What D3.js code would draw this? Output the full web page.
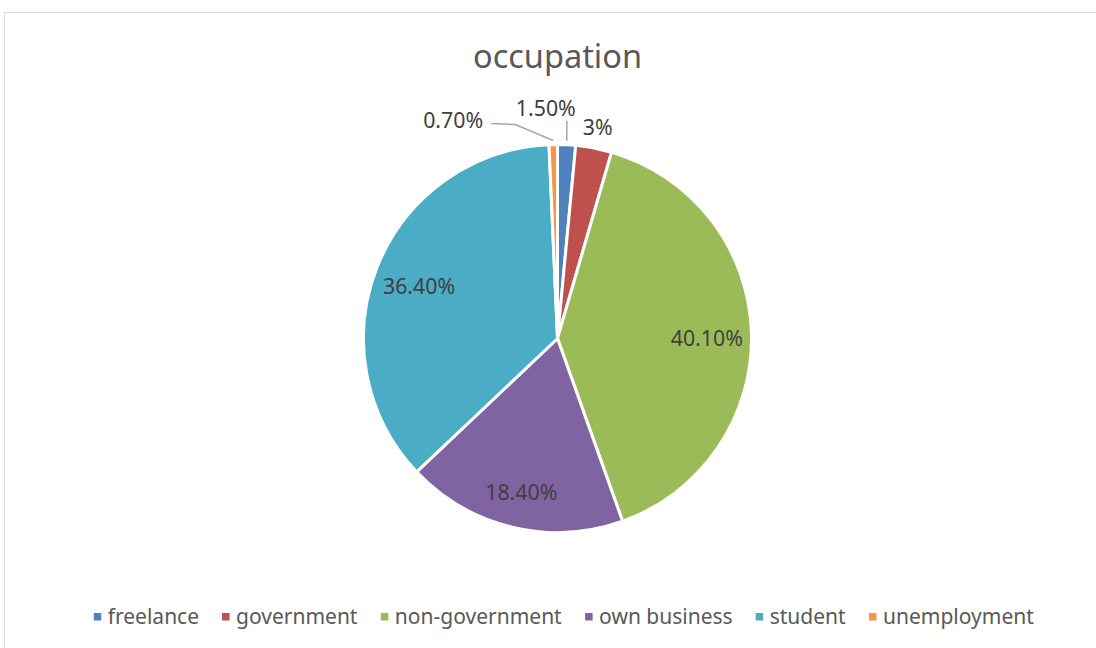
<!DOCTYPE html>
<html>
<head>
<meta charset="utf-8">
<script src="https://cdn.jsdelivr.net/npm/d3@7"></script>
<style>
  body { margin: 0; background: #fff; }
  svg text { font-family: "Noto Sans", "Open Sans", sans-serif; }
</style>
</head>
<body>
<div id="chart"></div>
<script>
// data
const categories = ["freelance", "government", "non-government", "own business", "student", "unemployment"];
const values = [1.5, 3, 40.1, 18.4, 36.4, 0.7];
const labels = ["1.50%", "3%", "40.10%", "18.40%", "36.40%", "0.70%"];
const colors = ["#4F81BD", "#C0504D", "#9BBB59", "#8064A2", "#4BACC6", "#F79646"];

const W = 1096, H = 648;
const cx = 557.5, cy = 338.5, r = 194;

const svg = d3.select("#chart").append("svg")
  .attr("width", W)
  .attr("height", H);

// chart frame
svg.append("rect")
  .attr("x", 4.5).attr("y", 12.5)
  .attr("width", W).attr("height", H)
  .attr("fill", "#fff")
  .attr("stroke", "#d9d9d9")
  .attr("stroke-width", 1);

svg.append("text")
  .attr("x", cx).attr("y", 68)
  .attr("text-anchor", "middle")
  .attr("font-size", 32.5)
  .attr("fill", "#595959")
  .text("occupation");

let pie = d3.pie().sort(null).value(d => d);
let arcs = pie(values);

let arc = d3.arc().innerRadius(0).outerRadius(r);
let labelArc = d3.arc().innerRadius(r * 0.77).outerRadius(r * 0.77);

let g = svg.append("g").attr("transform", "translate(" + cx + "," + cy + ")");

g.selectAll("path")
  .data(arcs)
  .enter()
  .append("path")
  .attr("d", arc)
  .attr("fill", (d, i) => colors[i])
  .attr("stroke", "#fff")
  .attr("stroke-width", 3)
  .attr("stroke-linejoin", "round");

// leader lines for the two thinnest slices
let edge = d3.arc().innerRadius(r + 4).outerRadius(r + 4);
let p0 = edge.centroid(arcs[0]);
g.append("polyline")
  .attr("points", [[p0[0], p0[1]], [p0[0], p0[1] - 20]].join(" "))
  .attr("fill", "none").attr("stroke", "#a6a6a6").attr("stroke-width", 1.5);

let p5 = edge.centroid(arcs[5]);
g.append("polyline")
  .attr("points", [[p5[0], p5[1]], [p5[0] - 38, p5[1] - 16], [p5[0] - 62, p5[1] - 17]].join(" "))
  .attr("fill", "none").attr("stroke", "#a6a6a6").attr("stroke-width", 1.5);

// data labels
g.selectAll("text.lbl")
  .data(arcs)
  .enter()
  .append("text")
  .attr("class", "lbl")
  .attr("font-size", 21.3)
  .attr("fill", "#404040")
  .attr("text-anchor", "middle")
  .attr("dy", "0.35em")
  .attr("transform", function(d, i) {
    let p;
    if (i === 0) {
      p = [p0[0] - 21, p0[1] - 32];
    } else if (i === 1) {
      let a = d3.arc().innerRadius(r + 21).outerRadius(r + 21);
      p = a.centroid(d);
    } else if (i === 5) {
      p = [p5[0] - 100, p5[1] - 20];
    } else if (i === 3) {
      let a = d3.arc().innerRadius(r * 0.8).outerRadius(r * 0.8);
      p = a.centroid(d);
      p[1] += 3;
    } else {
      p = labelArc.centroid(d);
      p[1] += 4;
    }
    return "translate(" + p[0] + "," + p[1] + ")";
  })
  .text((d, i) => labels[i]);

// legend
let legend = svg.append("g").attr("transform", "translate(0,617)");
let items = legend.selectAll("g")
  .data(categories)
  .enter()
  .append("g");

items.append("rect")
  .attr("width", 7.5).attr("height", 7.5)
  .attr("y", -4)
  .attr("fill", (d, i) => colors[i]);

items.append("text")
  .attr("x", 14)
  .attr("dy", "0.35em")
  .attr("font-size", 21)
  .attr("fill", "#595959")
  .text(d => d);

let widths = [];
items.each(function() { widths.push(this.getBBox().width); });
let gap = 23;
let total = d3.sum(widths) + gap * (widths.length - 1);
let x = (90 + 1038) / 2 - total / 2;
items.attr("transform", function(d, i) {
  let t = "translate(" + x + ",0)";
  x += widths[i] + gap;
  return t;
});
</script>
</body>
</html>
